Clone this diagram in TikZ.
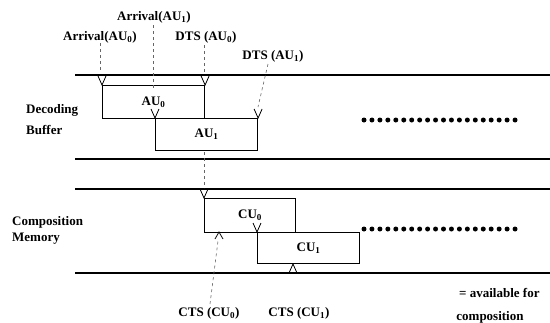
\documentclass[tikz,border=0pt]{standalone}
\usepackage{fontspec}
\setmainfont{Liberation Serif}
\begin{document}
\begin{tikzpicture}[x=1pt,y=-1pt,
  font=\bfseries\fontsize{13}{15}\selectfont,
  box/.style={draw, line width=1.1pt, inner sep=0pt, anchor=north west},
  rail/.style={line width=1.3pt},
  guide/.style={black!60, line width=0.6pt, dash pattern=on 3pt off 3pt},
  tickmark/.style={line width=0.8pt},
  lbl/.style={inner sep=0pt},
  dotmark/.style={fill=black}]
\useasboundingbox (0,0) rectangle (550,322);

% rails
\coordinate (r1a) at (75,75);  \coordinate (r1b) at (550,75);
\coordinate (r2a) at (75,159); \coordinate (r2b) at (550,159);
\coordinate (r3a) at (75,189); \coordinate (r3b) at (550,189);
\coordinate (r4a) at (75,273); \coordinate (r4b) at (550,273);
\draw[rail] (r1a) -- (r1b);
\draw[rail] (r2a) -- (r2b);
\draw[rail] (r3a) -- (r3b);
\draw[rail] (r4a) -- (r4b);

% labels
\node[lbl] (arr1) at (154,17) {Arrival(AU\textsubscript{1})};
\node[lbl] (arr0) at (100,37) {Arrival(AU\textsubscript{0})};
\node[lbl] (dts0) at (206,37) {DTS (AU\textsubscript{0})};
\node[lbl] (dts1) at (273,56) {DTS (AU\textsubscript{1})};
\node[lbl, anchor=west] (dec) at (26,110) {Decoding};
\node[lbl, anchor=west] (buf) at (26,130) {Buffer};
\node[lbl, anchor=west] (comp) at (12,222) {Composition};
\node[lbl, anchor=west] (mem) at (12,239) {Memory};
\node[lbl] (cts0) at (209,313) {CTS (CU\textsubscript{0})};
\node[lbl] (cts1) at (299,313) {CTS (CU\textsubscript{1})};
\node[lbl, anchor=west] (avail) at (459,293) {= available for};
\node[lbl] (compo) at (490,317) {composition};

% boxes
\node[box, minimum width=102pt, minimum height=33pt] (au0) at (102,85) {AU\textsubscript{0}};
\node[box, minimum width=102pt, minimum height=32pt] (au1) at (155,118) {AU\textsubscript{1}};
\node[box, minimum width=91pt, minimum height=34pt] (cu0) at (204,198) {CU\textsubscript{0}};
\node[box, minimum width=102pt, minimum height=31pt] (cu1) at (257,232) {CU\textsubscript{1}};

% guide coordinates
\coordinate (g0) at (100,73);
\coordinate (g1a) at (153,25);
\coordinate (g1b) at (153,88);
\coordinate (g2a) at (204,45);
\coordinate (g2b) at (204,73);
\coordinate (g3a) at (268,64);
\coordinate (g3b) at (258,107);
\coordinate (g4a) at (204,152);
\coordinate (g4b) at (204,188);
\coordinate (g5a) at (210,304);
\coordinate (g5b) at (218,241);
\draw[guide] (arr0.south) -- (g0);
\draw[guide] (g1a) -- (g1b);
\draw[guide] (g2a) -- (g2b);
\draw[guide] (g3a) -- (g3b);
\draw[guide] (g4a) -- (g4b);
\draw[guide] (g5a) -- (g5b);

% down markers (arrowhead at corner)
\foreach \c in {au0.north west, au0.north east, au1.north west, au1.north east, cu0.north west, cu1.north west}
  \draw[tickmark] ([shift={(-4,-9)}]\c) -- (\c) -- ([shift={(4,-9)}]\c);
% up markers
\coordinate (u0) at (219,232);
\coordinate (u1) at (293,264);
\draw[tickmark] ([shift={(-4,7)}]u0) -- (u0) -- ([shift={(4,7)}]u0);
\draw[tickmark] ([shift={(-4,9)}]u1) -- (u1) -- ([shift={(4,9)}]u1);

% continuation dots
\foreach \i in {0,...,19} {
  \fill[dotmark] (364+\i*7.95,120) circle (2.5pt);
  \fill[dotmark] (364+\i*7.95,229) circle (2.5pt);
}
\end{tikzpicture}
\end{document}
